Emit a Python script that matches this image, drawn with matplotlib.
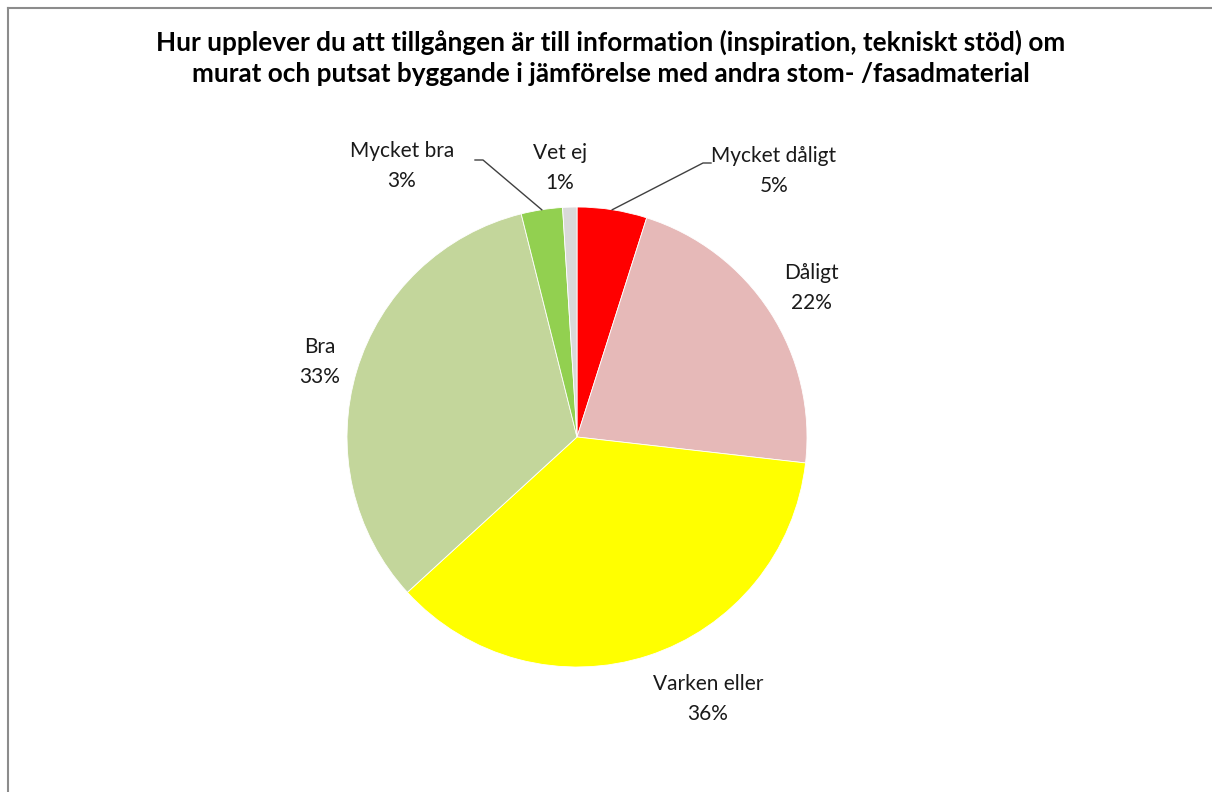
import numpy as np
import matplotlib.pyplot as plt
from matplotlib.lines import Line2D

plt.rcParams['font.family'] = ['Lato', 'DejaVu Sans']

# data (clockwise from 12 o'clock)
categories = ['Mycket dåligt', 'Dåligt', 'Varken eller', 'Bra', 'Mycket bra', 'Vet ej']
values = [4.9, 21.9, 36.4, 32.9, 2.9, 1.0]
colors = ['#FF0000', '#E6B9B8', '#FFFF00', '#C3D69B', '#92D050', '#D9D9D9']
title = ('Hur upplever du att tillgången är till information (inspiration, tekniskt stöd) om\n'
         'murat och putsat byggande i jämförelse med andra stom- /fasadmaterial')

W, H = 1212, 792
cx, cy, r = 577, H - 437, 230

fig = plt.figure(figsize=(W / 100, H / 100), dpi=100)
ax = fig.add_axes([0, 0, 1, 1])

ax.pie(values, colors=colors, startangle=90, counterclock=False,
       center=(cx, cy), radius=r, frame=True,
       wedgeprops=dict(linewidth=0.6, edgecolor='white'))
ax.set_xlim(0, W)
ax.set_ylim(0, H)
ax.set_aspect('equal')
ax.axis('off')

# mid angle of every slice, clockwise from top (degrees)
cum = np.cumsum([0] + values[:-1])
mid = (cum + np.array(values) / 2) / sum(values) * 360

def on_circle(theta, dist):
    t = np.radians(theta)
    return cx + dist * r * np.sin(t), cy + dist * r * np.cos(t)

# label centres in pixels (from top-left)
label_pos = [(774, 171), (811, 288), (708, 699), (320, 362), (402, 166), (560, 168)]
txt = dict(ha='center', va='center', fontsize=15, color='#1a1a1a', linespacing=1.6)

for name, v, (x, y) in zip(categories, values, label_pos):
    ax.text(x, H - y, f'{name}\n{round(v):.0f}%', **txt)

# leader lines for small slices
for i, elbow, end in [(0, (703, 163), (711, 163)), (4, (483, 160), (475, 160))]:
    x0, y0 = on_circle(mid[i], 1.0)
    ax.plot([x0, elbow[0], end[0]], [y0, H - elbow[1], H - end[1]],
            color='#404040', lw=1)

fig.text(611 / W, 1 - 58 / H, title, ha='center', va='center',
         fontsize=18.8, fontweight='bold', color='black', linespacing=1.35)

# chart border (only top and left edges visible)
fig.add_artist(Line2D([7.5 / W, 7.5 / W], [0, 1 - 8 / H], transform=fig.transFigure,
                      color='#8c8c8c', lw=1.5))
fig.add_artist(Line2D([7.5 / W, 1], [1 - 8 / H, 1 - 8 / H], transform=fig.transFigure,
                      color='#8c8c8c', lw=1.5))

fig.savefig('out.png', dpi=100)
